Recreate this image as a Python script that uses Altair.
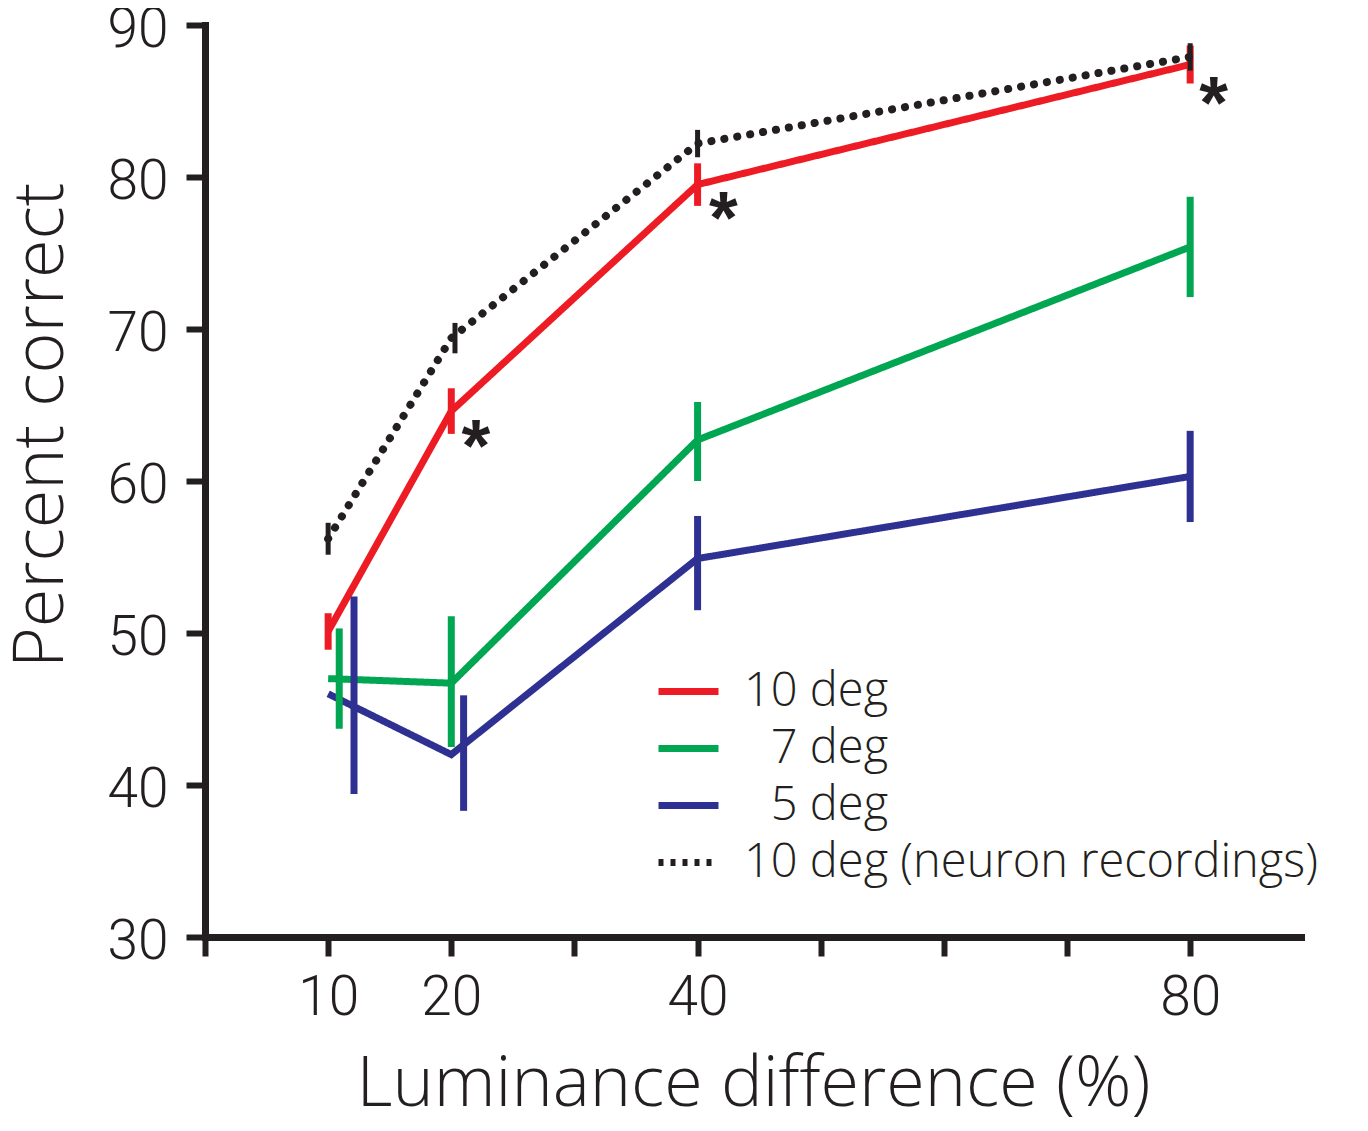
import altair as alt
import pandas as pd

# ---------------- data ----------------
lum = [10, 20, 40, 80]

red_mean = [50.1, 64.6, 79.5, 87.4]
red_err = [1.2, 1.5, 1.4, 1.25]
red_err_x = [10, 20, 40, 80]

green_mean = [47.0, 46.7, 62.7, 75.4]
green_err_center = [47.0, 46.8, 62.6, 75.4]
green_err = [3.3, 4.3, 2.6, 3.3]
green_err_x = [10.9, 20, 40, 80]

blue_mean = [46.0, 42.0, 54.9, 60.3]
blue_err_center = [45.9, 42.1, 54.6, 60.3]
blue_err = [6.5, 3.8, 3.1, 3.0]
blue_err_x = [12.1, 21.0, 40, 80]

neuron_mean = [56.2, 69.4, 82.2, 87.9]
neuron_err = [1.05, 1.0, 0.9, 0.9]
neuron_err_x = [10, 20.3, 40, 80]

star_x = [22.0, 42.1, 81.9]
star_y = [62.8, 77.8, 85.4]

# leading zero-width space keeps the figure space from being trimmed
series_names = ["10 deg", "\u200b\u20077 deg", "\u200b\u20075 deg", "10 deg (neuron recordings)"]
series_colors = ["#ED1C24", "#00A651", "#2E3192", "#231F20"]

x_ticks = [0, 10, 20, 30, 40, 50, 60, 70, 80]
x_labels = [10, 20, 40, 80]
y_ticks = [30, 40, 50, 60, 70, 80, 90]

INK = "#231F20"
FONT = "Roboto"
TFONT = "Open Sans"

# ---------------- tables ----------------
line_rows = []
err_rows = []
for name, means, ex, ec, ee in [
    (series_names[0], red_mean, red_err_x, red_mean, red_err),
    (series_names[1], green_mean, green_err_x, green_err_center, green_err),
    (series_names[2], blue_mean, blue_err_x, blue_err_center, blue_err),
    (series_names[3], neuron_mean, neuron_err_x, neuron_mean, neuron_err),
]:
    for xv, m in zip(lum, means):
        line_rows.append({"series": name, "lum": xv, "pc": m})
    for xv, c, e in zip(ex, ec, ee):
        err_rows.append({"series": name, "lum": xv, "lo": c - e, "hi": c + e})

lines = pd.DataFrame(line_rows)
errs = pd.DataFrame(err_rows)
stars = pd.DataFrame({"lum": star_x, "pc": star_y, "t": ["*"] * len(star_x)})

xscale = alt.Scale(domain=[0, 89], nice=False, zero=False)
yscale = alt.Scale(domain=[30, 90], nice=False, zero=False)

color_scale = alt.Scale(domain=series_names, range=series_colors)
dash_scale = alt.Scale(domain=series_names, range=[[1, 0], [1, 0], [1, 0], [5, 7]])

label_expr = "indexof(" + str(x_labels) + ", datum.value) >= 0 ? datum.label : ''"

x_enc = alt.X(
    "lum:Q",
    scale=xscale,
    axis=alt.Axis(
        values=x_ticks,
        labelExpr=label_expr,
        title="Luminance difference (%)",
        titleY=168,
        titleBaseline="alphabetic",
    ),
)
y_enc = alt.Y(
    "pc:Q",
    scale=yscale,
    axis=alt.Axis(
        values=y_ticks,
        title="Percent correct",
        titleX=-143,
        titleY=400,
        titleAngle=270,
        titleAlign="center",
        titleBaseline="alphabetic",
        labelOffset=4,
    ),
)

legend = alt.Legend(
    title=None,
    orient="none",
    legendX=450,
    legendY=633,
    symbolType="stroke",
    symbolSize=3600,
    symbolStrokeWidth=7,
    labelFont=TFONT,
    labelFontSize=47,
    labelFontWeight=300,
    labelColor=INK,
    labelOffset=22,
    labelLimit=0,
    rowPadding=0,
    padding=0,
)

solid = lines[lines["series"] != series_names[3]]
dotted = lines[lines["series"] == series_names[3]]

colored_lines = (
    alt.Chart(solid)
    .mark_line(strokeWidth=7, strokeJoin="miter")
    .encode(
        x=x_enc,
        y=y_enc,
        color=alt.Color("series:N", scale=color_scale, legend=legend, sort=series_names),
        strokeDash=alt.StrokeDash("series:N", scale=dash_scale, legend=legend, sort=series_names),
        order=alt.Order("lum:Q"),
    )
)

dotted_line = (
    alt.Chart(dotted)
    .mark_line(strokeWidth=8, strokeDash=[0.1, 13], strokeCap="round")
    .encode(
        x="lum:Q",
        y="pc:Q",
        color=alt.Color("series:N", scale=color_scale, legend=legend, sort=series_names),
    )
)

colored_errs = (
    alt.Chart(errs[errs["series"] != series_names[3]])
    .mark_rule(strokeWidth=7)
    .encode(
        x="lum:Q",
        y=alt.Y("lo:Q"),
        y2="hi:Q",
        color=alt.Color("series:N", scale=color_scale, legend=legend, sort=series_names),
    )
)

black_errs = (
    alt.Chart(errs[errs["series"] == series_names[3]])
    .mark_rule(strokeWidth=5)
    .encode(
        x="lum:Q",
        y=alt.Y("lo:Q"),
        y2="hi:Q",
        color=alt.Color("series:N", scale=color_scale, legend=legend, sort=series_names),
    )
)

star_marks = (
    alt.Chart(stars)
    .mark_text(font="Liberation Sans", fontSize=74, fontWeight="bold", color=INK,
               baseline="alphabetic", dy=33)
    .encode(x="lum:Q", y="pc:Q", text="t:N")
)

chart = (
    alt.layer(colored_lines, colored_errs, dotted_line, black_errs, star_marks)
    .properties(
        width=1096,
        height=912,
        autosize=alt.AutoSizeParams(type="none"),
        padding={"left": 197, "top": 17, "right": 55, "bottom": 186},
        background="white",
    )
    .configure_view(stroke=None)
    .configure_axis(
        grid=False,
        domainColor=INK,
        domainWidth=7,
        domainCap="square",
        tickColor=INK,
        tickWidth=6,
        tickSize=19,
        labelFont=FONT,
        labelFontSize=55,
        labelFontWeight=300,
        labelColor=INK,
        labelPadding=18,
        titleFont=TFONT,
        titleFontSize=70,
        titleFontWeight=300,
        titleColor=INK,
    )
    .configure_axisX(labelPadding=15)
)

chart.save("out.html", embed_options={"renderer": "svg", "actions": False})
